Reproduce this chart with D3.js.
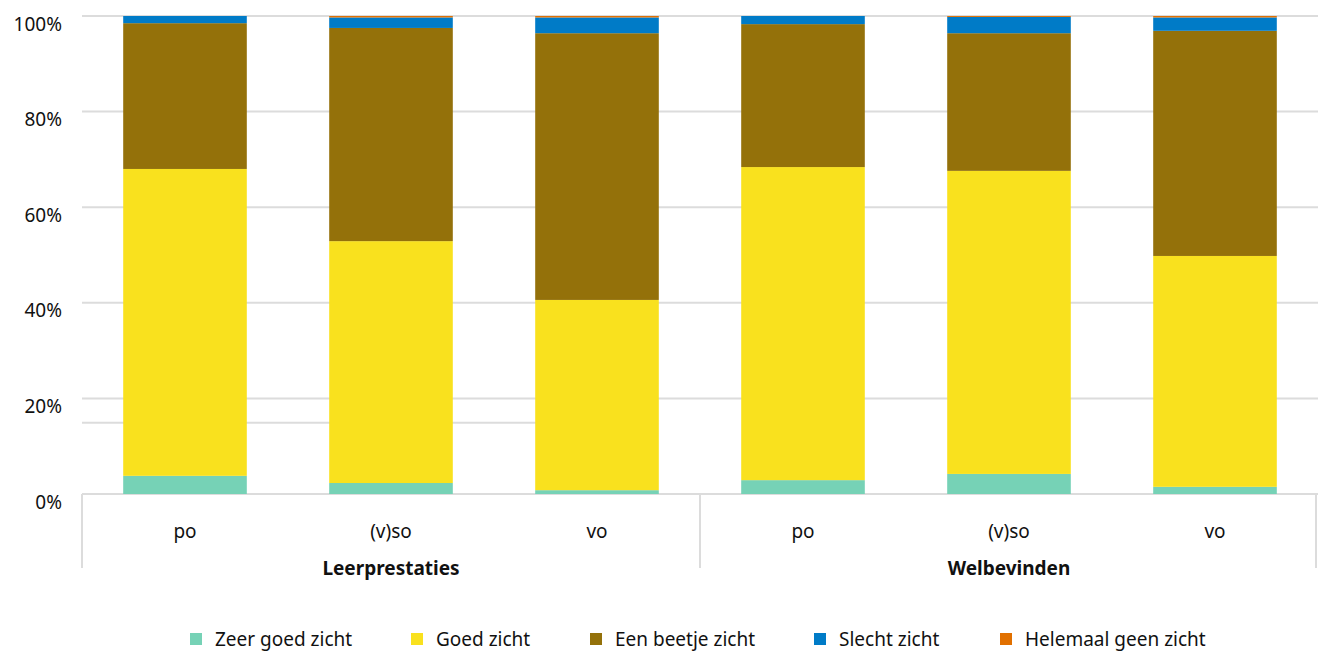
<!DOCTYPE html>
<html>
<head>
<meta charset="utf-8">
<script src="https://cdn.jsdelivr.net/npm/d3@7"></script>
<style>
  body { margin: 0; background: #fff; }
  text { font-family: "Noto Sans", sans-serif; fill: #111; }
</style>
</head>
<body>
<div id="chart"></div>
<script>
// Data
const groups = ["Leerprestaties", "Welbevinden"];
const schoolTypes = ["po", "(v)so", "vo"];
const seriesNames = ["Zeer goed zicht", "Goed zicht", "Een beetje zicht", "Slecht zicht", "Helemaal geen zicht"];
const seriesColors = ["#76d2b6", "#f9e11e", "#94710a", "#007bc7", "#e17000"];

// percentages per bar, in order: Leerprestaties po, (v)so, vo, Welbevinden po, (v)so, vo
const zeerGoed  = [3.8, 2.3, 0.8, 2.9, 4.2, 1.5];
const goed      = [64.2, 50.6, 39.8, 65.5, 63.4, 48.3];
const beetje    = [30.5, 44.6, 55.8, 29.9, 28.8, 47.1];
const slecht    = [1.5, 2.2, 3.3, 1.7, 3.4, 2.8];
const helemaal  = [0.0, 0.3, 0.3, 0.0, 0.2, 0.3];
const yTicks = [0, 20, 40, 60, 80, 100];

const rows = [];
groups.forEach((g, gi) => {
    schoolTypes.forEach((s, si) => {
        const i = gi * schoolTypes.length + si;
        rows.push({
            key: g + "|" + s, group: g, type: s,
            "Zeer goed zicht": zeerGoed[i],
            "Goed zicht": goed[i],
            "Een beetje zicht": beetje[i],
            "Slecht zicht": slecht[i],
            "Helemaal geen zicht": helemaal[i]
        });
    });
});

const W = 1318, H = 653;
const margin = { top: 16, right: 0, bottom: 159, left: 82 };
const width = W - margin.left - margin.right,
      height = H - margin.top - margin.bottom;

const svg = d3.select("#chart")
    .append("svg")
    .attr("width", W)
    .attr("height", H);

const g = svg.append("g")
    .attr("transform", `translate(${margin.left},${margin.top})`);

const x = d3.scaleBand()
    .domain(rows.map(d => d.key))
    .range([0, width])
    .paddingInner(0.4)
    .paddingOuter(0.2);

const xGroup = d3.scaleBand()
    .domain(groups)
    .range([0, width]);

const y = d3.scaleLinear()
    .domain([0, 100])
    .range([height, 0]);

const color = d3.scaleOrdinal()
    .domain(seriesNames)
    .range(seriesColors);

// Gridlines
g.selectAll(".grid")
    .data(yTicks)
    .enter()
    .append("line")
    .attr("x1", 0)
    .attr("x2", width)
    .attr("y1", d => y(d))
    .attr("y2", d => y(d))
    .attr("stroke", "#dcdcdc")
    .attr("stroke-width", 2);

// stray line present in the original
g.append("line")
    .attr("x1", 0)
    .attr("x2", x(rows[2].key) + x.bandwidth() * 0.77)
    .attr("y1", y(14.9))
    .attr("y2", y(14.9))
    .attr("stroke", "#dcdcdc")
    .attr("stroke-width", 2);

// Y labels
g.selectAll(".ylab")
    .data(yTicks)
    .enter()
    .append("text")
    .attr("x", -20)
    .attr("y", d => y(d) + 8)
    .attr("dy", "0.35em")
    .attr("text-anchor", "end")
    .style("font-size", "19px")
    .text(d => d + "%");

// Stacked bars
const stack = d3.stack().keys(seriesNames);
const layers = stack(rows);

g.selectAll(".layer")
    .data(layers)
    .enter()
    .append("g")
    .attr("fill", d => color(d.key))
    .selectAll("rect")
    .data(d => d)
    .enter()
    .append("rect")
    .attr("x", d => x(d.data.key))
    .attr("width", x.bandwidth())
    .attr("y", d => y(d[1]))
    .attr("height", d => y(d[0]) - y(d[1]));

// Category axis frame
const sepX = [0, xGroup(groups[1]), width - 2];
g.selectAll(".sep")
    .data(sepX)
    .enter()
    .append("line")
    .attr("x1", d => d)
    .attr("x2", d => d)
    .attr("y1", height)
    .attr("y2", height + 74)
    .attr("stroke", "#dcdcdc")
    .attr("stroke-width", 2);

// School type labels
g.selectAll(".xlab")
    .data(rows)
    .enter()
    .append("text")
    .attr("x", d => x(d.key) + x.bandwidth() / 2)
    .attr("y", height + 37)
    .attr("dy", "0.35em")
    .attr("text-anchor", "middle")
    .style("font-size", "19px")
    .text(d => d.type);

// Group labels
g.selectAll(".glab")
    .data(groups)
    .enter()
    .append("text")
    .attr("x", d => xGroup(d) + xGroup.bandwidth() / 2)
    .attr("y", height + 74)
    .attr("dy", "0.35em")
    .attr("text-anchor", "middle")
    .style("font-size", "19px")
    .style("font-weight", "bold")
    .text(d => d);

// Legend
const legendX = [190, 411, 590, 814, 1000];
const legend = svg.selectAll(".legend")
    .data(seriesNames)
    .enter()
    .append("g")
    .attr("transform", (d, i) => `translate(${legendX[i]},639)`);

legend.append("rect")
    .attr("x", 0)
    .attr("y", -6)
    .attr("width", 12)
    .attr("height", 12)
    .attr("fill", d => color(d));

legend.append("text")
    .attr("x", 25)
    .attr("y", 0)
    .attr("dy", "0.35em")
    .style("font-size", "19px")
    .text(d => d);
</script>
</body>
</html>
